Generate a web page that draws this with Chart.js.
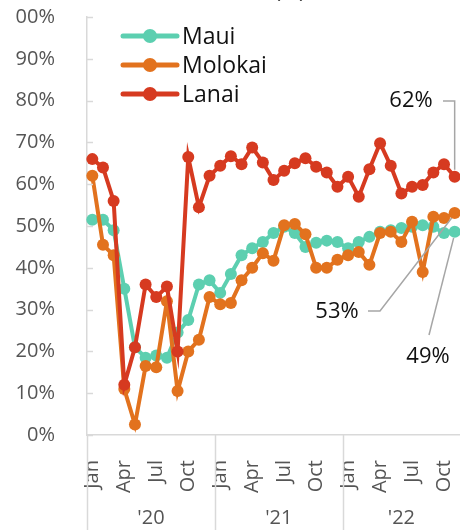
<!DOCTYPE html>
<html>
<head>
<meta charset="utf-8">
<script src="https://cdn.jsdelivr.net/npm/chart.js@4/dist/chart.umd.min.js"></script>
<style>
  body { margin: 0; background: #fff; }
  canvas { display: block; }
</style>
</head>
<body>
<canvas id="chart" width="460" height="530"></canvas>
<script>
// Monthly rate (%) by island, Jan 2020 - Nov 2022

const months = [
  'Jan','Feb','Mar','Apr','May','Jun','Jul','Aug','Sep','Oct','Nov','Dec',
  'Jan','Feb','Mar','Apr','May','Jun','Jul','Aug','Sep','Oct','Nov','Dec',
  'Jan','Feb','Mar','Apr','May','Jun','Jul','Aug','Sep','Oct','Nov'
];
const yearLabels = ["'20", "'21", "'22"];
const yearStarts = [0, 12, 24];
const yTicks = [0, 10, 20, 30, 40, 50, 60, 70, 80, 90, 100];

const maui = [51.5, 51.5, 49, 35, 21, 18.5, 19, 18.5, 24.5, 27.5, 36, 37,
  34, 38.5, 43, 44.7, 46.2, 48.3, 49.8, 48.3, 45, 46, 46.5, 46.2,
  44.7, 46.2, 47.4, 48.6, 49, 49.5, 49.8, 50.2, 49.8, 48.3, 48.6];
const molokai = [62, 45.5, 43, 11, 2.5, 16.5, 16.2, 32, 10.5, 20, 22.8, 33,
  31.3, 31.6, 37, 40, 43.5, 41.7, 50.2, 50.5, 48, 40, 40, 41.9,
  43, 43.8, 40.7, 48.3, 48.6, 46.2, 51, 39, 52.2, 51.9, 53.1];
const lanai = [66, 64, 56, 12, 21, 36, 33, 35.5, 20, 66.5, 54.5, 62,
  64.4, 66.7, 64.8, 68.8, 65.2, 61, 63.2, 65, 66.2, 64.2, 62.8, 59.4,
  61.8, 57, 63.6, 69.8, 64.4, 57.8, 59.4, 59.8, 62.8, 64.8, 61.8];

const FONT = '"Open Sans", sans-serif';
const GREY = '#555555';
const AXIS = '#d9d9d9';

function series(label, data, color, order) {
  return {
    label, data, order,
    borderColor: color,
    backgroundColor: color,
    borderWidth: 4,
    pointRadius: 6,
    pointBorderWidth: 0,
    pointHoverRadius: 6,
    tension: 0,
    clip: false
  };
}

// --- extras: inner y ticks, year groups, legend, end labels ---
const extras = {
  id: 'extras',
  afterDraw(chart) {
    const ctx = chart.ctx;
    const area = chart.chartArea;
    const x = chart.scales.x, y = chart.scales.y;
    const half = (x.getPixelForValue(1) - x.getPixelForValue(0)) / 2;
    ctx.save();

    // cut-off title
    ctx.fillStyle = '#404040';
    ctx.font = '22px ' + FONT;
    ctx.textAlign = 'center';
    ctx.textBaseline = 'alphabetic';
    ctx.fillText('(%)', 290, -2);

    // inner tick marks on y axis
    ctx.strokeStyle = AXIS;
    ctx.lineWidth = 1.5;
    yTicks.forEach(v => {
      const py = Math.round(y.getPixelForValue(v)) + 0.5;
      ctx.beginPath();
      ctx.moveTo(area.left, py);
      ctx.lineTo(area.left + 6, py);
      ctx.stroke();
    });

    // year separators + labels
    ctx.fillStyle = GREY;
    ctx.font = '20px ' + FONT;
    ctx.textBaseline = 'middle';
    yearStarts.forEach((s, k) => {
      const end = k + 1 < yearStarts.length ? yearStarts[k + 1] - 1 : months.length - 1;
      const x0 = x.getPixelForValue(s) - half;
      const x1 = x.getPixelForValue(end) + half;
      const px = Math.round(x0) + 0.5;
      ctx.beginPath();
      ctx.moveTo(px, area.bottom);
      ctx.lineTo(px, chart.height);
      ctx.stroke();
      ctx.fillText(yearLabels[k], (x0 + x1) / 2, 518);
    });

    // legend inside plot
    ctx.font = '23px ' + FONT;
    ctx.textAlign = 'left';
    chart.data.datasets.forEach((ds, i) => {
      const ly = 36 + i * 29;
      ctx.strokeStyle = ds.borderColor;
      ctx.fillStyle = ds.borderColor;
      ctx.lineWidth = 5;
      ctx.lineCap = 'round';
      ctx.beginPath();
      ctx.moveTo(123, ly);
      ctx.lineTo(177, ly);
      ctx.stroke();
      ctx.beginPath();
      ctx.arc(150, ly, 7, 0, Math.PI * 2);
      ctx.fill();
      ctx.fillStyle = '#111';
      ctx.fillText(ds.label, 182, ly + 1);
    });

    // end-value labels with leader lines
    const last = months.length - 1;
    const px = x.getPixelForValue(last);
    const lab = v => Math.round(v) + '%';
    ctx.strokeStyle = '#a6a6a6';
    ctx.lineWidth = 1.5;
    ctx.lineCap = 'butt';
    ctx.fillStyle = '#111';
    ctx.font = '22px ' + FONT;
    ctx.textAlign = 'center';

    const pL = y.getPixelForValue(lanai[last]);
    ctx.beginPath();
    ctx.moveTo(443, 101); ctx.lineTo(px, 101); ctx.lineTo(px, pL - 7);
    ctx.stroke();
    ctx.fillText(lab(lanai[last]), 411, 101);

    const pM = y.getPixelForValue(molokai[last]);
    ctx.beginPath();
    ctx.moveTo(368, 311); ctx.lineTo(380, 311); ctx.lineTo(px - 3, pM + 5);
    ctx.stroke();
    ctx.fillText(lab(molokai[last]), 337, 312);

    const pU = y.getPixelForValue(maui[last]);
    ctx.beginPath();
    ctx.moveTo(429, 335); ctx.lineTo(px - 1, pU + 6);
    ctx.stroke();
    ctx.fillText(lab(maui[last]), 428, 357);

    ctx.restore();
  }
};

new Chart(document.getElementById('chart'), {
  type: 'line',
  data: {
    labels: months,
    datasets: [
      series('Maui', maui, '#5ccfb0', 2),
      series('Molokai', molokai, '#e2721e', 1),
      series('Lanai', lanai, '#d63a20', 0)
    ]
  },
  options: {
    responsive: false,
    animation: false,
    devicePixelRatio: 1,
    layout: { autoPadding: false, padding: { top: 17, left: 12, right: 0, bottom: 0 } },
    plugins: {
      legend: { display: false },
      tooltip: { enabled: false },
      title: { display: false }
    },
    scales: {
      x: {
        type: 'category',
        offset: true,
        grid: { display: false },
        border: { display: true, color: AXIS, width: 1.5 },
        ticks: {
          autoSkip: false,
          minRotation: 90,
          maxRotation: 90,
          padding: 17,
          color: GREY,
          font: { family: FONT, size: 20 },
          callback: (v, i) => (i % 3 === 0 ? months[i] : '')
        },
        afterFit: s => {
          s.height = 95;
          s.paddingLeft = 0;
          s.paddingRight = 0;
        }
      },
      y: {
        min: 0,
        max: 100,
        grid: { display: false },
        border: { display: true, color: AXIS, width: 1.5 },
        ticks: {
          stepSize: 10,
          padding: 24,
          color: GREY,
          font: { family: FONT, size: 20 },
          callback: v => v + '%'
        },
        afterFit: s => {
          s.width = 75;
          s.paddingTop = 0;
          s.paddingBottom = 0;
        }
      }
    }
  },
  plugins: [extras]
});
</script>
</body>
</html>
